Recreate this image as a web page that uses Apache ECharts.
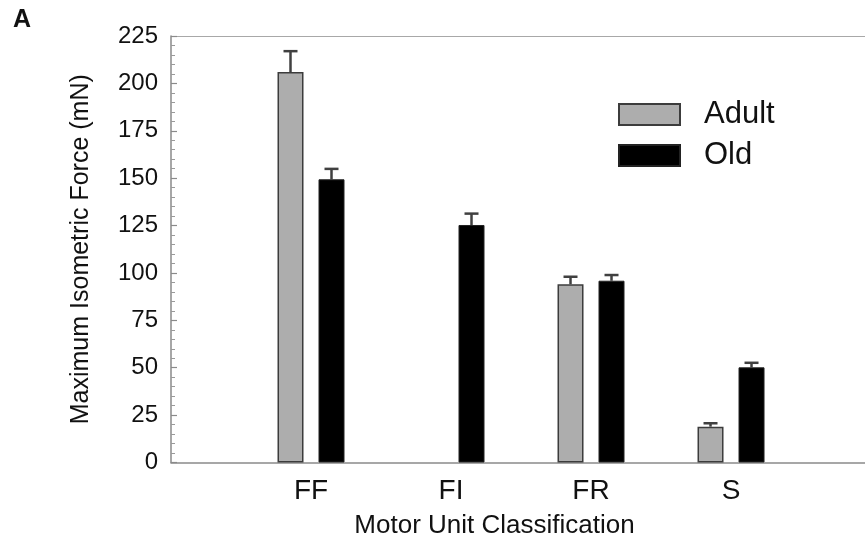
<!DOCTYPE html>
<html>
<head>
<meta charset="utf-8">
<script src="https://cdn.jsdelivr.net/npm/echarts@6/dist/echarts.min.js"></script>
<style>
html,body{margin:0;padding:0;background:#fff;}
#chart{width:865px;height:537px;}
</style>
</head>
<body>
<div id="chart"></div>
<script>
// Category names at positions 1..4 on the x axis
const categories = ['FF', 'FI', 'FR', 'S'];
const adultValues = [206, null, 94, 18.9];
const adultErrors = [11, null, 4, 1.8];
const oldValues = [149.4, 125.3, 95.9, 50.2];
const oldErrors = [5.5, 6, 3, 2.4];
const yTicks = { min: 0, max: 225, interval: 25 };
const xRange = { min: 0, max: 4.957, interval: 1 };

const FONT = '"Liberation Sans", Arial, Helvetica, sans-serif';
const BAR_W = 26;
const OFFSET = 20.5;

function barData(vals) {
  return vals.map((v, i) => [i + 1, v]);
}
function errData(vals, errs) {
  const out = [];
  vals.forEach((v, i) => { if (v != null) out.push([i + 1, v, v + errs[i]]); });
  return out;
}

function errRender(offset) {
  return function (params, api) {
    const idx = api.value(0);
    const top = api.coord([idx, api.value(1)]);
    const hi = api.coord([idx, api.value(2)]);
    const x = top[0] + offset;
    const style = { stroke: '#404040', lineWidth: 2.5 };
    return {
      type: 'group',
      children: [
        { type: 'line', shape: { x1: x, y1: top[1], x2: x, y2: hi[1] }, style: style },
        { type: 'line', shape: { x1: x - 7, y1: hi[1], x2: x + 7, y2: hi[1] }, style: style }
      ]
    };
  };
}

const chart = echarts.init(document.getElementById('chart'));
chart.setOption({
  animation: false,
  backgroundColor: '#fff',
  textStyle: { fontFamily: FONT },
  graphic: [
    { type: 'text', left: 13, top: 8, style: { text: 'A', font: 'bold 25px ' + FONT, fill: '#111' } }
  ],
  legend: {
    orient: 'vertical',
    left: 618,
    top: 99,
    padding: 0,
    itemWidth: 61,
    itemHeight: 21,
    itemGap: 10,
    icon: 'rect',
    selectedMode: false,
    textStyle: { fontSize: 31, color: '#111', padding: [0, 0, 0, 19] },
    data: ['Adult', 'Old']
  },
  grid: { left: 171, top: 36, bottom: 74.5, right: 0, outerBoundsMode: 'none', containLabel: false },
  xAxis: [
    {
      type: 'value',
      min: xRange.min, max: xRange.max, interval: xRange.interval,
      axisLine: { show: true, onZero: false, lineStyle: { color: '#8a8a8a', width: 1.5 } },
      axisTick: { show: false },
      splitLine: { show: false },
      axisLabel: {
        fontSize: 28, color: '#111', margin: 15,
        formatter: function (v) { return categories[v - 1] || ''; }
      },
      name: 'Motor Unit Classification',
      nameLocation: 'middle',
      nameGap: 50,
      nameTextStyle: { fontSize: 26, color: '#111', padding: [0, 47, 0, 0] }
    },
    {
      type: 'value', position: 'top',
      min: xRange.min, max: xRange.max,
      axisLine: { show: true, onZero: false, lineStyle: { color: '#a8a8a8', width: 1.2 } },
      axisTick: { show: false }, axisLabel: { show: false }, splitLine: { show: false }
    }
  ],
  yAxis: {
    type: 'value',
    min: yTicks.min, max: yTicks.max, interval: yTicks.interval,
    axisLine: { show: true, lineStyle: { color: '#8a8a8a', width: 1.5 } },
    axisTick: { show: true, inside: true, length: 6, lineStyle: { color: '#8a8a8a', width: 1.2 } },
    minorTick: { show: true, splitNumber: 5, length: 4, lineStyle: { color: '#9a9a9a', width: 1 } },
    axisLabel: { fontSize: 24, color: '#111', margin: 13 },
    splitLine: { show: false },
    name: 'Maximum Isometric Force (mN)',
    nameLocation: 'middle',
    nameGap: 77,
    nameTextStyle: { fontSize: 25, color: '#111' }
  },
  series: [
    {
      name: 'Adult', type: 'bar', data: barData(adultValues),
      barWidth: BAR_W, barGap: (2 * OFFSET - BAR_W) / BAR_W * 100 + '%',
      itemStyle: { color: '#adadad', borderColor: '#3c3c3c', borderWidth: 1.5 }
    },
    {
      name: 'Old', type: 'bar', data: barData(oldValues),
      barWidth: BAR_W,
      itemStyle: { color: '#000', borderColor: '#222', borderWidth: 1 }
    },
    {
      type: 'custom', name: 'adultErr', renderItem: errRender(-OFFSET),
      data: errData(adultValues, adultErrors), z: 1, silent: true
    },
    {
      type: 'custom', name: 'oldErr', renderItem: errRender(OFFSET),
      data: errData(oldValues, oldErrors), z: 1, silent: true
    }
  ]
});
</script>
</body>
</html>
